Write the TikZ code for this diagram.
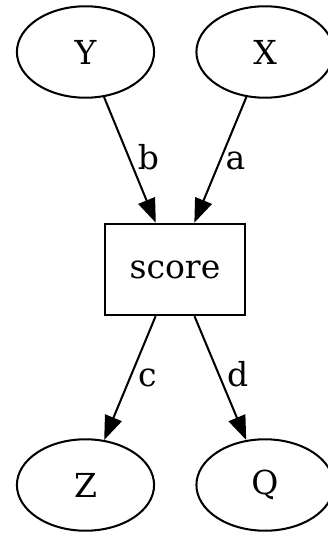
\documentclass[tikz,border=0pt]{standalone}
\usepackage{fontspec}
\setmainfont{DejaVu Serif}
\usetikzlibrary{shapes.geometric, arrows.meta}

\begin{document}
\begin{tikzpicture}[x=0.3937pt, y=-0.3937pt, line width=0.8pt, >={Triangle[length=9.5pt, width=7pt]}]
    \tikzset{var/.style={draw, ellipse, minimum width=54pt, minimum height=36pt, inner sep=0pt, font=\fontsize{13}{15}\selectfont},
             fn/.style={draw, rectangle, minimum width=55pt, minimum height=36pt, inner sep=0pt, font=\fontsize{13}{15}\selectfont},
             lbl/.style={anchor=base west, inner sep=0pt, font=\fontsize{13}{15}\selectfont}}
    \useasboundingbox (0,0) rectangle (328,533);
    \node[var] (Y) at (85.5,52) {Y};
    \node[var] (X) at (265,52) {X};
    \node[fn] (score) at (175,269.5) {score};
    \node[var] (Z) at (85.5,485) {Z};
    \node[var] (Q) at (265,485) {Q};
    \draw[->] (Y) -- node[lbl, pos=0.575, xshift=1.2pt] {b} (score);
    \draw[->] (X) -- node[lbl, pos=0.575, xshift=3.2pt] {a} (score);
    \draw[->] (score) -- node[lbl, pos=0.57, xshift=4.3pt] {c} (Z);
    \draw[->] (score) -- node[lbl, pos=0.57, xshift=0.8pt] {d} (Q);
\end{tikzpicture}
\end{document}
